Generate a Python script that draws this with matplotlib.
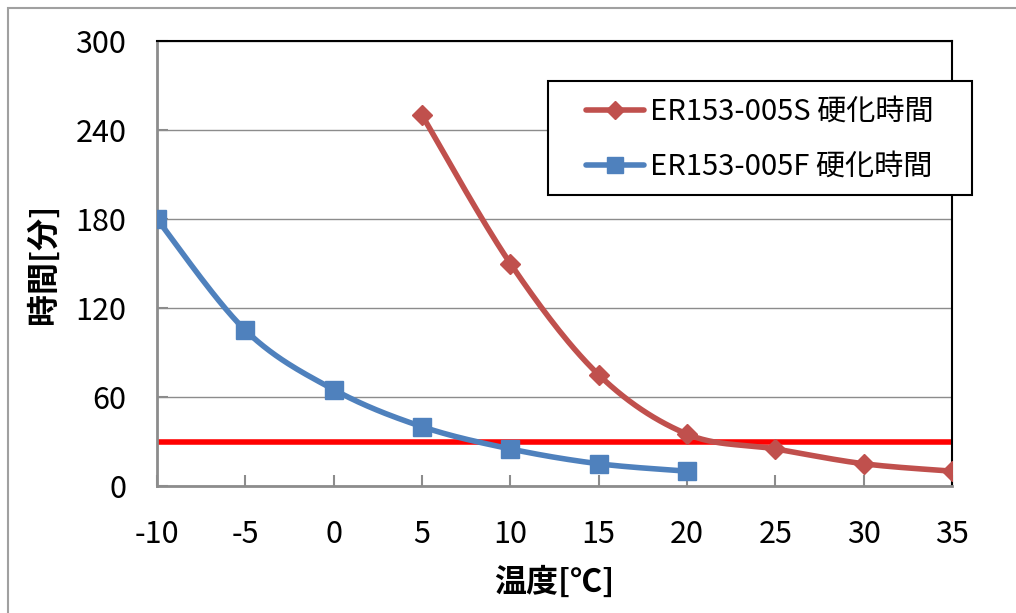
import numpy as np
import matplotlib
matplotlib.use('Agg')
import matplotlib.pyplot as plt
from matplotlib.patches import Rectangle
from matplotlib.lines import Line2D

plt.rcParams['font.family'] = ['Noto Sans CJK JP', 'DejaVu Sans']
plt.rcParams['axes.unicode_minus'] = False

# data
temp_s = [5, 10, 15, 20, 25, 30, 35]
time_s = [250, 150, 75, 35, 25, 15, 10]
temp_f = [-10, -5, 0, 5, 10, 15, 20]
time_f = [180, 105, 65, 40, 25, 15, 10]
limit = 30
label_s = 'ER153-005S 硬化時間'
label_f = 'ER153-005F 硬化時間'
x_ticks = [-10, -5, 0, 5, 10, 15, 20, 25, 30, 35]
y_ticks = [0, 60, 120, 180, 240, 300]

red_c = '#C0504D'
blue_c = '#4F81BD'
W, H = 1016, 613


# excel style smooth line (catmull-rom bezier)
def smooth(xs, ys, n=30):
    xs = np.asarray(xs, float)
    ys = np.asarray(ys, float)
    px = np.concatenate([[xs[0]], xs, [xs[-1]]])
    py = np.concatenate([[ys[0]], ys, [ys[-1]]])
    ox, oy = [], []
    t = np.linspace(0, 1, n)
    for i in range(1, len(px) - 2):
        p0 = np.array([px[i], py[i]])
        p3 = np.array([px[i + 1], py[i + 1]])
        c1 = p0 + (np.array([px[i + 1], py[i + 1]]) - np.array([px[i - 1], py[i - 1]])) / 6
        c2 = p3 - (np.array([px[i + 2], py[i + 2]]) - np.array([px[i], py[i]])) / 6
        for tt in t:
            b = ((1 - tt) ** 3) * p0 + 3 * ((1 - tt) ** 2) * tt * c1 + 3 * (1 - tt) * tt ** 2 * c2 + tt ** 3 * p3
            ox.append(b[0])
            oy.append(b[1])
    return ox, oy


fig = plt.figure(figsize=(W / 100, H / 100), dpi=100)
fig.patches.append(Rectangle((8 / W, -0.1), 1.2, 1 - 8 / H + 0.1, transform=fig.transFigure,
                             fill=False, edgecolor='#A0A0A0', linewidth=1.5))
ax = fig.add_axes([157 / W, 1 - 486 / H, 795 / W, 445 / H])

ax.grid(axis='y', color='#8C8C8C', linewidth=1)
ax.set_axisbelow(True)

ax.axhline(limit, color='#FF0000', linewidth=4, zorder=2)

sx, sy = smooth(temp_s, time_s)
ax.plot(sx, sy, color=red_c, linewidth=4, zorder=3, solid_capstyle='round')
ax.plot(temp_s, time_s, linestyle='none', marker='D', markersize=10.5, color=red_c, zorder=4)

fx, fy = smooth(temp_f, time_f)
ax.plot(fx, fy, color=blue_c, linewidth=4, zorder=3, solid_capstyle='round')
ax.plot(temp_f, time_f, linestyle='none', marker='s', markersize=13, color=blue_c, zorder=4)

ax.set_xlim(-10, 35)
ax.set_ylim(0, 300)
ax.set_xticks(x_ticks)
ax.set_yticks(y_ticks)
ax.tick_params(direction='in', length=8, width=1.5, color='#8C8C8C', labelsize=22)
ax.tick_params(axis='x', pad=24)
ax.tick_params(axis='y', pad=22)

for side in ['left', 'bottom']:
    ax.spines[side].set_color('#8C8C8C')
    ax.spines[side].set_linewidth(2)
for side in ['top', 'right']:
    ax.spines[side].set_color('black')
    ax.spines[side].set_linewidth(1.5)

ax.set_xlabel('温度[℃]', fontsize=23, fontweight='bold', labelpad=12)
ax.set_ylabel('時間[分]', fontsize=23, fontweight='bold', labelpad=11)

# legend box (drawn by hand so the padding matches)
ax.add_patch(Rectangle((548 / W, 1 - 195 / H), 424 / W, 114 / H, transform=fig.transFigure,
                       facecolor='white', edgecolor='black', linewidth=1.5, clip_on=False, zorder=5))
handles = [Line2D([], [], color=red_c, linewidth=4, marker='D', markersize=9, solid_capstyle='round'),
           Line2D([], [], color=blue_c, linewidth=4, marker='s', markersize=12, solid_capstyle='round')]
leg = fig.legend(handles, [label_s, label_f], loc='upper left',
                 bbox_to_anchor=(586 / W, 1 - 97 / H),
                 fontsize=21, frameon=False, handlelength=2.0, borderpad=0,
                 labelspacing=0.85, handletextpad=0.2, borderaxespad=0)
leg.set_zorder(6)

fig.savefig('out.png', dpi=100)
